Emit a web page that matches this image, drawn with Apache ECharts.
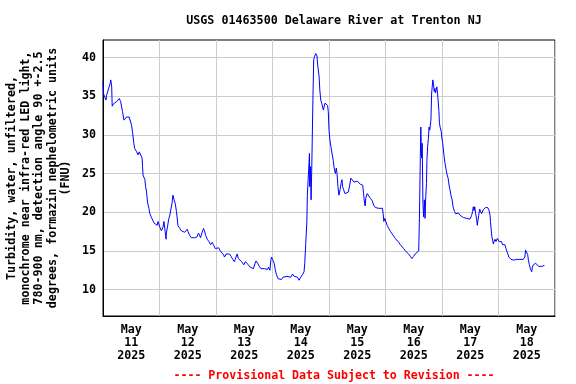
<!DOCTYPE html>
<html>
<head>
<meta charset="utf-8">
<script src="https://cdn.jsdelivr.net/npm/echarts@6/dist/echarts.min.js"></script>
<style>
html,body{margin:0;padding:0;background:#fff;}
#chart{width:576px;height:384px;}
</style>
</head>
<body>
<div id="chart"></div>
<script>
// Hours since 2025-05-11 00:00
var hours = [0.0,0.2,1.3,1.5,2.2,3.0,3.3,3.7,3.9,4.4,5.8,6.9,7.5,7.9,8.3,8.9,9.3,10.0,11.1,11.7,12.1,12.6,13.1,13.5,14.3,14.9,15.4,16.1,16.6,16.8,17.0,17.8,18.1,18.5,18.9,19.5,19.9,20.6,21.3,21.7,22.4,23.0,23.4,24.1,24.8,25.5,25.9,26.4,26.8,26.9,27.4,27.9,28.3,28.8,29.3,29.7,30.2,30.7,31.2,31.6,31.8,32.6,33.3,34.0,34.7,35.4,35.8,36.1,36.8,
37.5,38.9,39.6,39.9,40.6,41.0,41.4,42.0,42.7,43.1,43.6,44.3,45.0,45.7,46.4,46.9,47.7,48.3,49.1,49.8,50.5,51.2,51.6,52.3,53.0,53.7,54.4,55.1,55.8,56.5,57.0,57.5,58.2,58.9,59.8,60.5,61.0,61.7,62.5,63.1,63.9,64.6,65.0,65.7,66.4,67.1,67.8,68.5,69.2,69.9,70.3,70.9,71.3,71.6,72.0,72.7,73.2,73.7,74.4,75.2,75.8,76.5,77.3,
78.1,78.9,79.8,80.5,81.2,81.9,82.6,83.3,84.0,84.7,85.4,85.7,86.1,86.6,86.8,87.1,87.4,87.7,87.8,88.1,88.4,88.7,88.9,89.2,89.5,89.8,90.4,90.6,90.9,91.2,91.5,91.8,92.1,92.5,92.9,93.3,93.6,93.9,94.3,95.0,95.4,95.7,96.0,96.4,96.8,97.4,97.8,98.2,98.7,99.1,99.4,99.8,100.2,100.7,101.1,101.5,101.8,102.2,102.8,103.5,104.2,104.8,105.3,105.6,105.9,106.6,107.3,108.0,108.7,109.4,110.3,110.7,111.1,111.4,111.6,112.2,112.9,113.6,114.3,115.0,115.7,117.1,118.7,119.0,119.3,119.7,120.2,120.7,121.4,122.1,122.8,123.5,124.2,124.9,125.6,126.3,127.0,127.7,128.4,129.1,129.8,130.5,131.2,131.9,132.6,133.3,134.1,134.4,134.8,135.0,135.3,135.6,135.9,136.2,136.5,136.8,137.1,137.4,137.6,137.9,138.2,138.5,138.8,139.0,139.3,139.6,139.9,140.1,140.4,140.7,141.0,141.2,141.5,141.8,142.1,142.4,142.7,142.9,143.2,143.7,143.9,144.3,144.9,145.3,145.8,146.2,146.6,147.0,147.4,147.8,148.3,148.7,149.3,149.8,150.4,151.0,151.7,152.4,153.1,153.8,154.5,155.2,155.9,156.3,156.6,157.0,157.3,157.6,157.9,158.3,158.7,159.0,159.3,159.6,160.0,160.4,160.8,161.3,161.5,162.0,162.5,163.0,163.4,164.0,164.4,164.6,164.9,165.2,165.5,165.8,166.1,166.5,166.9,167.5,167.9,168.3,168.9,169.3,169.7,170.3,170.7,171.2,171.6,172.0,172.4,172.8,173.3,173.8,174.5,175.6,177.1,178.5,178.9,179.2,179.5,179.8,180.1,180.4,180.7,181.1,181.5,181.8,182.1,182.4,182.8,183.3,183.8,184.4,185.0,185.7,186.4,187.1,187.5];
var turbidity = [36.9,35.3,34.5,35.1,35.8,36.6,37.1,36.2,33.7,34.0,34.3,34.7,34.3,33.6,33.0,31.9,32.0,32.3,32.3,32.1,31.3,30.2,28.9,28.2,27.8,27.4,27.8,28.0,27.0,25.9,24.8,24.2,23.3,22.6,21.3,20.5,19.8,19.3,19.1,18.6,18.8,18.3,18.8,18.1,17.6,18.1,18.8,17.5,16.5,17.3,18.1,19.1,19.5,19.4,21.1,22.2,21.6,21.1,20.1,19.0,18.3,17.9,17.6,17.4,17.4,17.6,17.8,17.5,17.0,
16.7,16.7,16.6,16.8,17.3,17.0,16.7,17.3,17.9,17.6,17.0,16.5,16.2,15.8,16.1,15.8,15.3,15.2,15.4,15.0,14.8,14.5,14.2,14.6,14.8,14.6,14.3,13.9,13.6,14.2,14.6,14.0,13.8,13.6,13.2,13.6,13.8,13.2,12.9,13.0,12.7,13.4,13.7,13.4,13.0,12.7,12.6,12.7,12.9,12.6,12.9,12.5,13.8,14.2,13.9,13.4,12.5,11.9,11.4,11.2,11.3,11.6,11.8,
11.7,11.6,11.6,12.0,11.7,11.5,11.6,11.2,11.6,11.9,12.3,13.4,15.8,18.8,22.2,22.4,25.7,27.6,23.3,25.9,21.6,26.1,29.7,35.1,39.7,40.1,40.5,40.7,40.2,39.0,38.8,37.5,35.8,34.5,34.1,33.6,33.2,33.6,34.1,34.1,33.8,33.0,30.6,29.3,28.5,27.4,26.7,25.7,25.0,25.7,25.0,23.3,22.2,22.9,23.7,24.2,23.3,22.9,22.4,22.4,22.6,23.5,24.4,24.6,24.2,23.9,23.8,24.0,23.9,23.6,23.5,22.4,21.1,20.8,21.8,22.4,22.2,21.8,21.5,20.9,20.6,20.5,20.5,19.8,18.8,19.2,19.1,18.3,17.9,17.5,17.3,16.9,16.6,16.4,16.1,15.8,15.6,15.3,15.0,14.8,14.6,14.3,14.0,14.3,14.6,14.8,15.0,19.0,27.2,31.0,27.0,28.9,21.1,19.4,21.6,19.2,22.0,23.7,26.7,28.5,29.5,31.0,30.6,30.4,31.9,35.4,35.6,37.1,36.6,35.6,36.0,35.4,35.8,36.2,35.4,35.4,33.0,31.5,31.0,30.4,29.7,28.9,27.2,26.3,25.4,24.8,24.4,23.5,22.9,22.2,21.6,20.7,20.1,19.8,19.6,19.9,19.6,19.5,19.3,19.5,19.2,19.1,19.1,19.2,19.6,20.1,20.7,20.2,20.7,19.8,19.1,18.3,19.0,19.6,20.4,20.2,19.8,19.9,20.3,20.4,20.6,20.4,20.6,20.2,19.6,18.8,17.7,16.8,16.4,15.9,16.2,16.5,16.2,16.6,16.4,16.2,16.3,16.2,15.8,15.6,15.8,15.3,14.9,14.6,14.2,14.0,13.9,13.8,13.8,13.9,13.9,13.9,13.8,14.2,15.1,14.9,15.2,14.5,13.8,13.2,12.7,12.5,12.3,12.9,13.2,13.4,13.4,13.3,13.0,13.0,13.0,13.1,13.1];

var yTicks = [10, 15, 20, 25, 30, 35, 40];
var xLabelHours = [12, 36, 60, 84, 108, 132, 156, 180];
var xLabels = ['May\n11\n2025','May\n12\n2025','May\n13\n2025','May\n14\n2025','May\n15\n2025','May\n16\n2025','May\n17\n2025','May\n18\n2025'];
var titleText = 'USGS 01463500 Delaware River at Trenton NJ';
var yName = 'Turbidity, water, unfiltered,\nmonochrome near infra-red LED light,\n780-900 nm, detection angle 90 +-2.5\ndegrees, formazin nephelometric units\n(FNU)';
var footText = '---- Provisional Data Subject to Revision ----';

var FONT = '"DejaVu Sans Mono", monospace';
var data = hours.map(function (h, i) { return [h, turbidity[i]]; });

var chart = echarts.init(document.getElementById('chart'), null, {renderer: 'canvas'});
chart.setOption({
  animation: false,
  backgroundColor: '#fff',
  title: [{
    text: titleText, left: 329, top: 10, textAlign: 'center',
    textStyle: {fontFamily: FONT, fontSize: 11.7, fontWeight: 'bold', color: '#000'}
  }, {
    text: footText, left: 329, top: 365, textAlign: 'center',
    textStyle: {fontFamily: FONT, fontSize: 11.6, fontWeight: 'bold', color: '#ff0000'}
  }],
  graphic: [{
    type: 'text', x: 39, y: 178, rotation: Math.PI / 2,
    style: {text: yName, fill: '#000', font: 'bold 11.7px ' + FONT, align: 'center', verticalAlign: 'middle', lineHeight: 13.5}
  }],
  grid: {left: 103, right: 21, top: 40, bottom: 68, show: true, borderColor: '#000', borderWidth: 1, backgroundColor: 'transparent'},
  xAxis: {
    type: 'value', min: 0, max: 192, interval: 24,
    axisLine: {show: true, lineStyle: {color: '#000'}},
    axisTick: {show: false},
    splitLine: {show: true, lineStyle: {color: '#cccccc', width: 1}},
    axisLabel: {
      customValues: xLabelHours, margin: 7, lineHeight: 13,
      fontFamily: FONT, fontSize: 11.7, fontWeight: 'bold', color: '#000',
      formatter: function (v) { var i = xLabelHours.indexOf(v); return i >= 0 ? xLabels[i] : ''; }
    }
  },
  yAxis: {
    type: 'value', min: 6.58, max: 42.26,
    axisLine: {show: true, lineStyle: {color: '#000'}},
    axisTick: {show: false, customValues: yTicks},
    splitLine: {show: true, lineStyle: {color: '#cccccc', width: 1}},
    axisLabel: {customValues: yTicks, margin: 7, fontFamily: FONT, fontSize: 11.7, fontWeight: 'bold', color: '#000'}
  },
  series: [{
    type: 'line', data: data, showSymbol: false, symbol: 'none',
    lineStyle: {color: '#0000ff', width: 1}, clip: true
  }]
});
</script>
</body>
</html>
